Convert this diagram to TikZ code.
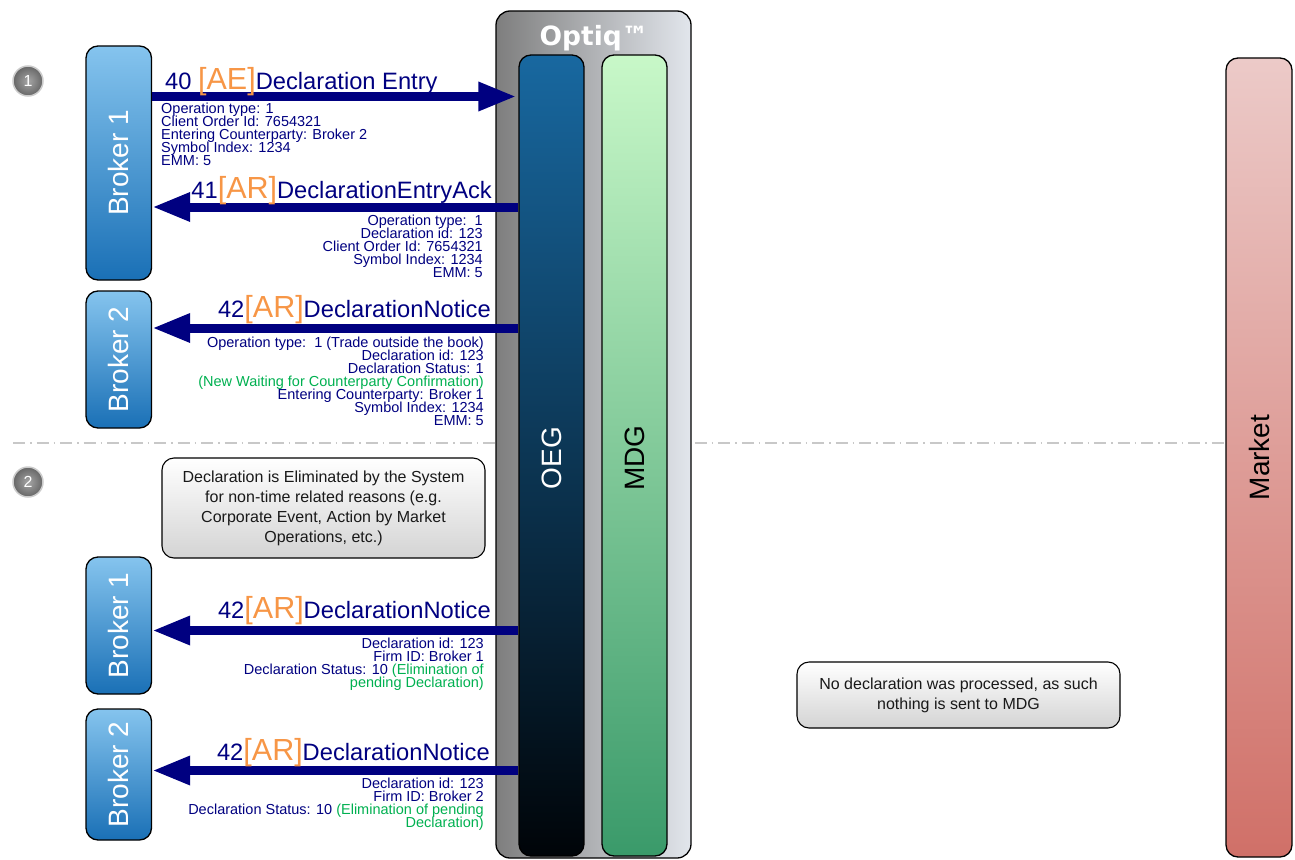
\documentclass[tikz,border=0pt]{standalone}
\usepackage{fontspec}
\setmainfont{Liberation Sans}
\newfontfamily\optiqfont{DejaVu Sans}
\usepackage{tikz}
\usetikzlibrary{arrows.meta,positioning,calc}
\usepackage{xcolor}
\definecolor{msgnavy}{RGB}{0,0,128}
\definecolor{tagorange}{RGB}{247,150,70}
\definecolor{statgreen}{RGB}{0,176,80}
\definecolor{brokertop}{RGB}{133,196,238}
\definecolor{brokerbot}{RGB}{26,112,182}
\definecolor{oegtop}{RGB}{24,104,160}
\definecolor{oegbot}{RGB}{0,4,8}
\definecolor{mdgtop}{RGB}{200,248,200}
\definecolor{mdgbot}{RGB}{58,154,106}
\definecolor{mkttop}{RGB}{236,202,200}
\definecolor{mktbot}{RGB}{208,112,104}
\definecolor{optiqleft}{RGB}{126,126,126}
\definecolor{optiqright}{RGB}{226,230,236}
\definecolor{sepgray}{RGB}{200,200,200}
\newcommand{\msgtag}[1]{{\color{tagorange}\fontsize{30.5}{30.5}\selectfont[#1]}}
\newcommand{\stat}[1]{{\color{statgreen}#1}}
\newcommand{\detfont}{\fontsize{14.5}{13}\selectfont\lineskiplimit=-20pt\relax}

\begin{document}
\begin{tikzpicture}[x=1pt, y=-1pt,
    lane/.style={draw=black, line width=1.3pt, rounded corners=12pt, inner sep=0pt},
    broker/.style={lane, top color=brokertop, bottom color=brokerbot, minimum width=65.5pt},
    lanetext/.style={rotate=90, inner sep=0pt, font=\fontsize{28}{28}\selectfont},
    note/.style={draw=black, line width=1.1pt, rounded corners=12pt, top color=white,
                 bottom color=black!17, align=center, text=black!90,
                 font=\fontsize{16}{20}\selectfont},
    msg/.style={-{Triangle[length=38pt,width=27pt]}, line width=9pt, msgnavy},
    msgtitle/.style={inner sep=0pt, text=msgnavy, font=\fontsize{23.7}{23.7}\selectfont},
    detail/.style={inner sep=0pt, text=msgnavy, font=\detfont},
    badge/.style={circle, minimum size=30pt, inner sep=0pt, draw=black!20, line width=1.5pt,
                  inner color=black!35, outer color=black!60, text=white,
                  font=\fontsize{16}{16}\selectfont}
]
\useasboundingbox (0,0) rectangle (1295,859);

% market lane and brokers
\node[lane, top color=mkttop, bottom color=mktbot, minimum width=66pt, minimum height=799pt] (mkt) at (1259,457.5) {};
\node[lanetext] (mktlbl) at (mkt.center) {Market};

\node[broker, minimum height=234pt] (brkA) at (118.75,163) {};
\node[broker, minimum height=137pt] (brkB) at (118.75,359.5) {};
\node[broker, minimum height=137pt] (brkC) at (118.75,625.5) {};
\node[broker, minimum height=131pt] (brkD) at (118.75,774.5) {};
\node[lanetext, text=white] (brkAlbl) at (brkA.center) {Broker 1};
\node[lanetext, text=white] (brkBlbl) at (brkB.center) {Broker 2};
\node[lanetext, text=white] (brkClbl) at (brkC.center) {Broker 1};
\node[lanetext, text=white] (brkDlbl) at (brkD.center) {Broker 2};

% phase separator
\coordinate (sepL) at (13,443);
\draw[sepgray, line width=1.6pt, dash pattern=on 12pt off 5pt on 1.5pt off 5pt] (sepL) -- (mkt.west |- sepL);

\node[badge] (ph1) at (28,81) {1};
\node[badge] (ph2) at (28,482) {2};

% optiq
\node[lane, rounded corners=14pt, left color=optiqleft, right color=optiqright,
      minimum width=195pt, minimum height=847pt] (optiq) at (593.5,434.5) {};
\node[anchor=base, text=white, font=\optiqfont\bfseries\fontsize{26.5}{26.5}\selectfont] (optiqlbl) at (594,46) {Optiq™};
\node[lane, top color=oegtop, bottom color=oegbot, minimum width=65pt, minimum height=801pt] (oeg) at (551.5,455.5) {};
\node[lane, top color=mdgtop, bottom color=mdgbot, minimum width=65pt, minimum height=801pt] (mdg) at (634.5,455.5) {};
\node[lanetext, text=white] (oeglbl) at (551.5,458) {OEG};
\node[lanetext] (mdglbl) at (634.5,458) {MDG};

% messages
\coordinate (m1) at (0,96.5);
\coordinate (m2) at (0,207);
\coordinate (m3) at (0,328);
\coordinate (m4) at (0,630.5);
\coordinate (m5) at (0,770.5);
\draw[msg, shorten >=2pt] (brkA.east |- m1) -- (oeg.west |- m1);
\draw[msg] (oeg.west |- m2) -- (brkA.east |- m2);
\draw[msg] (oeg.west |- m3) -- (brkB.east |- m3);
\draw[msg] (oeg.west |- m4) -- (brkC.east |- m4);
\draw[msg] (oeg.west |- m5) -- (brkD.east |- m5);

\node[msgtitle, anchor=base west] (t1) at (165,89) {40 \msgtag{AE}Declaration Entry};
\node[msgtitle, anchor=base east] (t2) at (492,198) {41\msgtag{AR}DeclarationEntryAck};
\node[msgtitle, anchor=base east] (t3) at (491,317) {42\msgtag{AR}DeclarationNotice};
\node[msgtitle, anchor=base east] (t4) at (491,618) {42\msgtag{AR}DeclarationNotice};
\node[msgtitle, anchor=base east] (t5) at (490,760) {42\msgtag{AR}DeclarationNotice};

\node[detail, anchor=north west, align=left] (d1) at (161,102.5)
  {Operation type: 1\\Client Order Id: 7654321\\Entering Counterparty: Broker 2\\Symbol Index: 1234\\EMM: 5};
\node[detail, anchor=north east, align=right] (d2) at (483,214.8)
  {Operation type:\ \ 1\\Declaration id: 123\\Client Order Id: 7654321\\Symbol Index: 1234\\EMM: 5};
\node[detail, anchor=north east, align=right] (d3) at (484,336.5)
  {Operation type:\ \ 1 (Trade outside the book)\\Declaration id: 123\\Declaration Status: 1\\
   \stat{(New Waiting for Counterparty Confirmation)}\\Entering Counterparty: Broker 1\\Symbol Index: 1234\\EMM: 5};
\node[detail, anchor=north east, align=right] (d4) at (484,638)
  {Declaration id: 123\\Firm ID: Broker 1\\Declaration Status: 10 \stat{(Elimination of}\\\stat{pending Declaration)}};
\node[detail, anchor=north east, align=right] (d5) at (484,778)
  {Declaration id: 123\\Firm ID: Broker 2\\Declaration Status: 10 \stat{(Elimination of pending}\\\stat{Declaration)}};

% notes
\node[note, minimum width=323pt, minimum height=100pt] (note1) at (323.5,508)
  {Declaration is Eliminated by the System\\for non-time related reasons (e.g.\\Corporate Event, Action by Market\\Operations, etc.)};
\node[note, minimum width=323pt, minimum height=66pt] (note2) at (958.5,695)
  {No declaration was processed, as such\\nothing is sent to MDG};
\end{tikzpicture}
\end{document}
